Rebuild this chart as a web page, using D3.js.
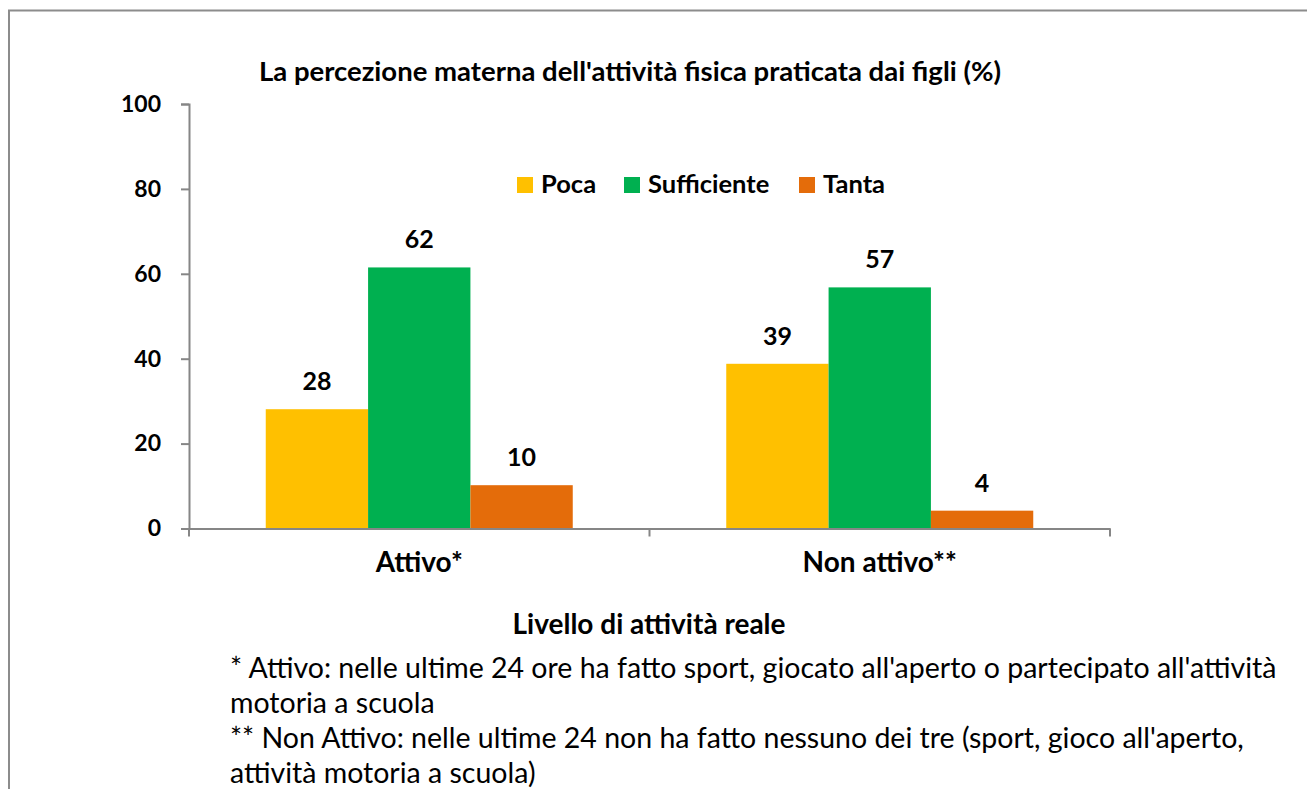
<!DOCTYPE html>
<html>
<head>
<meta charset="utf-8">
<script src="https://cdn.jsdelivr.net/npm/d3@7"></script>
<style>
  body { margin: 0; background: #fff; }
  svg text { font-family: Lato, "Open Sans", sans-serif; fill: #000; }
  .bold { font-weight: bold; }
</style>
</head>
<body>
<div class="chart"></div>
<script>
// Data
var categories = ["Attivo*", "Non attivo**"];
var seriesNames = ["Poca", "Sufficiente", "Tanta"];
var poca = [28.1, 38.8];
var sufficiente = [61.5, 56.8];
var tanta = [10.2, 4.2];
var yTicks = [0, 20, 40, 60, 80, 100];
var colors = ["#FFC000", "#00B050", "#E46C0A"];
var footnotes = [
  "* Attivo: nelle ultime 24 ore ha fatto sport, giocato all'aperto o partecipato all'attività",
  "motoria a scuola",
  "** Non Attivo: nelle ultime 24 non ha fatto nessuno dei tre (sport, gioco all'aperto,",
  "attività motoria a scuola)"
];

var svgWidth = 1307;
var svgHeight = 789;
var plot = { left: 189, right: 1110, top: 104, bottom: 528.5 };

var svg = d3.select(".chart")
  .append("svg")
  .attr("width", svgWidth)
  .attr("height", svgHeight);

// outer frame (only top and left edges are visible)
svg.append("path")
  .attr("d", `M9,${svgHeight} V10.5 H${svgWidth}`)
  .attr("fill", "none")
  .attr("stroke", "#8c8c8c")
  .attr("stroke-width", 2);

// scales
var x0 = d3.scaleBand()
  .domain(categories)
  .range([plot.left, plot.right])
  .paddingInner(0)
  .paddingOuter(0);

var x1 = d3.scaleBand()
  .domain(seriesNames)
  .range([0, x0.bandwidth()])
  .paddingInner(0)
  .paddingOuter(0.75);

var y = d3.scaleLinear()
  .domain([0, 100])
  .range([plot.bottom, plot.top]);

var rows = categories.map((c, i) => ({
  cat: c,
  values: [poca[i], sufficiente[i], tanta[i]].map((v, j) => ({ key: seriesNames[j], value: v, color: colors[j] }))
}));

// bars
var groups = svg.selectAll(".group")
  .data(rows)
  .enter()
  .append("g")
  .attr("class", "group")
  .attr("transform", d => `translate(${x0(d.cat)},0)`);

groups.selectAll("rect")
  .data(d => d.values)
  .enter()
  .append("rect")
  .attr("x", d => x1(d.key))
  .attr("width", x1.bandwidth())
  .attr("y", d => y(d.value))
  .attr("height", d => y(0) - y(d.value))
  .attr("fill", d => d.color);

// value labels
groups.selectAll(".val")
  .data(d => d.values)
  .enter()
  .append("text")
  .attr("class", "val bold")
  .attr("x", d => x1(d.key) + x1.bandwidth() / 2)
  .attr("y", d => y(d.value) - 19)
  .attr("text-anchor", "middle")
  .attr("font-size", 25)
  .text(d => d3.format(".0f")(d.value));

// y axis
var leftAxis = d3.axisLeft(y)
  .tickValues(yTicks)
  .tickSize(8)
  .tickPadding(20)
  .tickFormat(d3.format("d"));

var gy = svg.append("g")
  .attr("transform", `translate(${plot.left},0)`)
  .call(leftAxis);
gy.select(".domain").attr("stroke", "#868686").attr("stroke-width", 2);
gy.selectAll(".tick line").attr("stroke", "#868686").attr("stroke-width", 2);
gy.selectAll(".tick text")
  .attr("class", "bold")
  .attr("font-size", 23)
  .attr("font-family", "Lato, sans-serif")
  .attr("fill", "#000");

// x axis: line, boundary ticks, category labels
var bottomAxis = d3.axisBottom(x0).tickSize(0).tickPadding(24);
var gx = svg.append("g")
  .attr("transform", `translate(0,${plot.bottom})`)
  .call(bottomAxis);
gx.select(".domain").attr("stroke", "#868686").attr("stroke-width", 2);
gx.selectAll(".tick text")
  .attr("class", "bold")
  .attr("font-size", 28)
  .attr("font-family", "Lato, sans-serif")
  .attr("fill", "#000");

var bounds = categories.map(c => x0(c)).concat([plot.right]);
gx.selectAll(".bound")
  .data(bounds)
  .enter()
  .append("line")
  .attr("class", "bound")
  .attr("x1", d => d).attr("x2", d => d)
  .attr("y1", 0).attr("y2", 8)
  .attr("stroke", "#868686")
  .attr("stroke-width", 2);

// title
svg.append("text")
  .attr("class", "bold")
  .attr("x", 630)
  .attr("y", 81)
  .attr("text-anchor", "middle")
  .attr("font-size", 27.5)
  .text("La percezione materna dell'attività fisica praticata dai figli (%)");

// axis title
svg.append("text")
  .attr("class", "bold")
  .attr("x", 649)
  .attr("y", 634)
  .attr("text-anchor", "middle")
  .attr("font-size", 28)
  .text("Livello di attività reale");

// legend
var legendX = [517, 624, 799];
var legend = svg.selectAll(".legend")
  .data(seriesNames)
  .enter()
  .append("g")
  .attr("class", "legend")
  .attr("transform", (d, i) => `translate(${legendX[i]},177)`);

legend.append("rect")
  .attr("width", 16)
  .attr("height", 16)
  .attr("fill", (d, i) => colors[i]);

legend.append("text")
  .attr("class", "bold")
  .attr("x", 24)
  .attr("y", 16)
  .attr("font-size", 25.5)
  .text(d => d);

// footnotes
svg.selectAll(".note")
  .data(footnotes)
  .enter()
  .append("text")
  .attr("class", "note")
  .attr("x", 230)
  .attr("y", (d, i) => 678 + i * 35)
  .attr("font-size", 28.5)
  .text(d => d);
</script>
</body>
</html>
